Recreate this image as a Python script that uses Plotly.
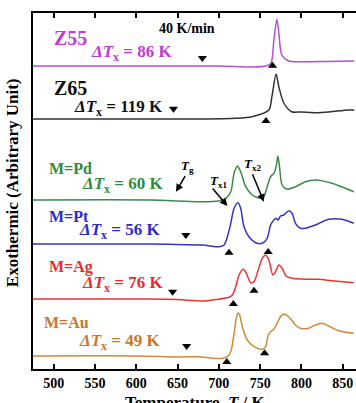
import plotly.graph_objects as go

# ---------------- data ----------------
samples = ["Z55", "Z65", "M=Pd", "M=Pt", "M=Ag", "M=Au"]
delta_tx = [86, 119, 60, 56, 76, 49]
offsets = [303, 250, 169, 125, 70, 12]   # vertical stacking (arbitrary units)

z55_T = [475, 616, 700, 740, 757, 763, 766.6, 770.2, 772.6, 776.2, 784.6, 800, 830, 864]
z55_s = [0, 0, 0, -1, 0, 2.7, 26, 46.7, 33, 11, 5, 4.3, 4.5, 5]

z65_T = [475, 616, 680, 720, 740, 760.5, 764.2, 769.3, 772.6, 778.6, 788, 800, 821, 857, 864]
z65_s = [0, 0, 0, 0.7, 2.3, 9, 22.3, 45, 32.3, 16, 7.3, 7, 6.3, 9, 9]

pd_T = [475, 616, 676, 700, 708.4, 714.4, 718.4, 722.4, 726.4, 732.5, 740.4, 750.5, 754.5,
        758.5, 762.6, 766.6, 769.3, 771.4, 773.4, 776.6, 782.6, 792.7, 804.7, 816.8, 836.8, 863.3]
pd_s = [0, 0, -1.7, -1, 1.7, 8.3, 26.7, 34, 28.3, 13.3, 5, 1.7, 3.3,
        13.3, 23.3, 26.7, 33.3, 44, 33.3, 15, 10.7, 13.3, 18.3, 20, 16.7, 8.3]

pt_T = [475, 616, 640, 680, 700.3, 706.3, 710.3, 714.4, 718.4, 723.2, 726.4, 730.4, 736.4,
        744.5, 752.5, 758.5, 762.6, 766.6, 769.3, 771.7, 774.6, 778.6, 784.6, 788.6, 792.7,
        798.7, 804.7, 816.8, 832.8, 848.8, 863.3]
pt_s = [0, 0, -0.3, -1, -2.7, -1, 7.3, 20.7, 35.7, 41.3, 35.7, 17.3, 7.3,
        1.3, 0.7, 5.7, 19, 24, 25.7, 24, 28, 29, 33.3, 30.7, 20.7,
        15.7, 15.7, 19, 24.7, 24.7, 20.7]

ag_T = [475, 616, 650, 680, 696.3, 712.3, 716.3, 720.4, 724.4, 729.6, 733.2, 738.5, 742.5,
        747.6, 752.5, 756.6, 760.5, 765.4, 768.6, 772.6, 776.6, 781.4, 788.6, 804.7, 820.8,
        836.8, 863.3]
ag_s = [0, 0, -0.5, -2, -0.5, 1.7, 4, 12.3, 24, 29.7, 25.7, 16.3, 17.3,
        29, 40.7, 44, 39, 24, 27.3, 34, 30.7, 23, 20.7, 19.7, 19.7,
        18.3, 16.3]

au_T = [475, 600, 650, 676.2, 692.2, 704.3, 710.3, 714.4, 718.4, 721.1, 723.2, 725.2, 728.4,
        734.4, 742.5, 752.5, 756.6, 759.7, 762.6, 766.6, 770.5, 774.6, 778.6, 784.6, 792.7,
        798.7, 808.7, 816.8, 824.8, 832.8, 844.9, 863.3]
au_s = [1, 1, 0, 0.3, -1.3, -1.3, 0.3, 5.3, 23.7, 38.7, 44.3, 42, 30.3,
        17, 10.3, 7.7, 10.3, 22, 25.3, 27.7, 33.7, 40.3, 43, 40.3, 32,
        28.7, 28.7, 32, 33.7, 31, 26.3, 23.7]

curves_T = [z55_T, z65_T, pd_T, pt_T, ag_T, au_T]
curves_s = [z55_s, z65_s, pd_s, pt_s, ag_s, au_s]

# Tg (down triangles) and Tx (up triangles) markers: (sample index, T, relative height)
tg_idx = [0, 1, 3, 4, 5]
tg_T = [680, 645, 660, 644, 661]
tg_s = [8, 10.3, 9, 7.3, 11]

tx_idx = [0, 1, 3, 3, 4, 4, 5, 5]
tx_T = [765, 757, 712.3, 759.7, 717.5, 742.5, 709.6, 755.4]
tx_s = [0.3, -2, -8.7, -8, -5, 8.3, -5, 3.7]

# Pd arrow annotations (Tg, Tx1, Tx2)
pd_arrow_T = [648.1, 710.3, 754.5]
pd_arrow_s = [8.3, -6, -1.7]

x_ticks = [500, 550, 600, 650, 700, 750, 800, 850]

colors = ["#c23bd4", "#111111", "#2e8b3a", "#2b2bcc", "#ee2a2a", "#c9782a"]
line_colors = ["#b64fd6", "#333333", "#3a8a48", "#3333cc", "#ee3333", "#d08a3c"]

FONT = "Liberation Serif"

fig = go.Figure()
for i in range(len(samples)):
    fig.add_trace(go.Scatter(
        x=curves_T[i], y=[v + offsets[i] for v in curves_s[i]],
        mode="lines", line=dict(color=line_colors[i], width=1.5, shape="spline", smoothing=0.8),
        showlegend=False, hoverinfo="skip"))

fig.add_trace(go.Scatter(
    x=tg_T, y=[s + offsets[i] for i, s in zip(tg_idx, tg_s)], mode="markers",
    marker=dict(symbol="triangle-down", size=8, color="black"), showlegend=False))
fig.add_trace(go.Scatter(
    x=tx_T, y=[s + offsets[i] for i, s in zip(tx_idx, tx_s)], mode="markers",
    marker=dict(symbol="triangle-up", size=8, color="black"), showlegend=False))

ann = []
# sample names and delta Tx labels
name_pos = [(497.9, 331, 20), (497.9, 281, 20), (491.9, 201, 16), (491.9, 153, 16), (491.9, 102, 16), (485.8, 46.5, 16)]
dtx_pos = [(542.5, 316), (522, 261), (531.6, 184), (528, 138), (531.6, 85), (528, 27.5)]
for i in range(len(samples)):
    nx, ny, fs = name_pos[i]
    ann.append(dict(x=nx, y=ny, xref="x", yref="y", xanchor="left", yanchor="middle",
                    text="<b>%s</b>" % samples[i], showarrow=False,
                    font=dict(family=FONT, size=fs, color=colors[i])))
    dx, dy = dtx_pos[i]
    ann.append(dict(x=dx, y=dy, xref="x", yref="y", xanchor="left", yanchor="middle",
                    text="<b><i>ΔT</i><sub>x</sub> = %d K</b>" % delta_tx[i], showarrow=False,
                    font=dict(family=FONT, size=17, color=colors[i])))

ann.append(dict(x=662, y=341, xref="x", yref="y", xanchor="center", yanchor="middle",
                text="<b>40 K/min</b>", showarrow=False, font=dict(family=FONT, size=14, color="black")))

# Pd arrows (drawn separately from their labels)
arrow_tail = [(10, -17), (-16, -19), (-12, -29)]
for (T, s), (axp, ayp) in zip(zip(pd_arrow_T, pd_arrow_s), arrow_tail):
    ann.append(dict(x=T, y=s + offsets[2], xref="x", yref="y", text="", showarrow=True,
                    ax=axp, ay=ayp, arrowhead=2, arrowsize=1, arrowwidth=1.5, arrowcolor="black"))
pd_label_pos = [(661.7, 203, "g"), (700.3, 187.3, "x1"), (741.3, 205, "x2")]
for (lx, ly, sub) in pd_label_pos:
    ann.append(dict(x=lx, y=ly, xref="x", yref="y", xanchor="center", yanchor="middle",
                    text="<b><i>T</i><sub>%s</sub></b>" % sub, showarrow=False,
                    font=dict(family=FONT, size=13, color="black")))

# axis titles
ann.append(dict(x=-21 / 323, y=0.522, xref="paper", yref="paper", textangle=-90,
                xanchor="center", yanchor="middle", showarrow=False,
                text="<b>Exothermic (Arbitrary Unit)</b>", font=dict(family=FONT, size=17, color="black")))
ann.append(dict(x=(195 - 33) / 323, y=-22 / 356, xref="paper", yref="paper",
                xanchor="center", yanchor="top", showarrow=False,
                text="<b>Temperature, <i>T</i> / K</b>", font=dict(family=FONT, size=17, color="black")))

fig.update_layout(
    width=356, height=403,
    margin=dict(l=33, r=0, t=13, b=34),
    plot_bgcolor="white", paper_bgcolor="white",
    annotations=ann,
    xaxis=dict(range=[475, 866], tickvals=x_ticks, ticks="inside", ticklen=5, tickwidth=1.5,
               tickcolor="black", showline=True, linewidth=2, linecolor="black", mirror="ticks",
               showgrid=False, zeroline=False,
               tickfont=dict(family=FONT, size=14, color="black", weight="bold")),
    yaxis=dict(range=[0, 356], showline=True, linewidth=2, linecolor="black", mirror=False,
               showticklabels=False, ticks="", showgrid=False, zeroline=False),
)

fig.write_html("out.html")
